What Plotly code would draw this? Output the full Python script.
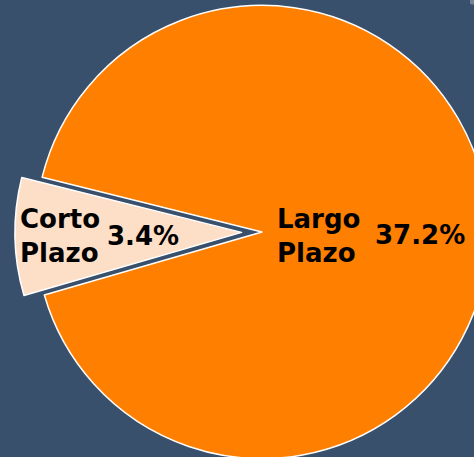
import plotly.graph_objects as go

labels = ["Largo Plazo", "Corto Plazo"]
values = [37.2, 3.4]
colors = ["#FF7F00", "#FCDFC6"]
pulls = [0, 0.09]

W, H = 524, 494
SHIFT = 15  # page is moved up by this many px


def paper(px, py):
    # window pixel -> paper coords
    return px / W, 1 - (py + SHIFT) / H


fig = go.Figure(go.Pie(
    labels=labels, values=values, sort=False, direction="counterclockwise",
    rotation=284, pull=pulls, textinfo="none", hoverinfo="label+value",
    marker=dict(colors=colors, line=dict(color="white", width=1.5)),
))

font = dict(family="DejaVu Sans", size=26, color="black", weight="bold")
# label block (left) and value (right) for each slice
label_pos = [(275, 236), (18, 236)]
value_pos = [(420, 235), (143, 236)]
for lab, val, lp, vp in zip(labels, values, label_pos, value_pos):
    x, y = paper(*lp)
    fig.add_annotation(x=x, y=y, xref="paper", yref="paper", text=lab.replace(" ", "<br>"),
                       showarrow=False, xanchor="left", yanchor="middle", align="left", font=font)
    x, y = paper(*vp)
    fig.add_annotation(x=x, y=y, xref="paper", yref="paper", text=f"{val}%",
                       showarrow=False, xanchor="center", yanchor="middle", font=font)

fig.update_layout(width=W, height=H, margin=dict(l=0, r=0, t=0, b=0),
                  paper_bgcolor="#39506d", showlegend=False)
fig.write_html("out.html",
               post_script=f"document.body.style.margin='-{SHIFT}px 0 0 0';"
                           "document.body.style.overflow='hidden';")
